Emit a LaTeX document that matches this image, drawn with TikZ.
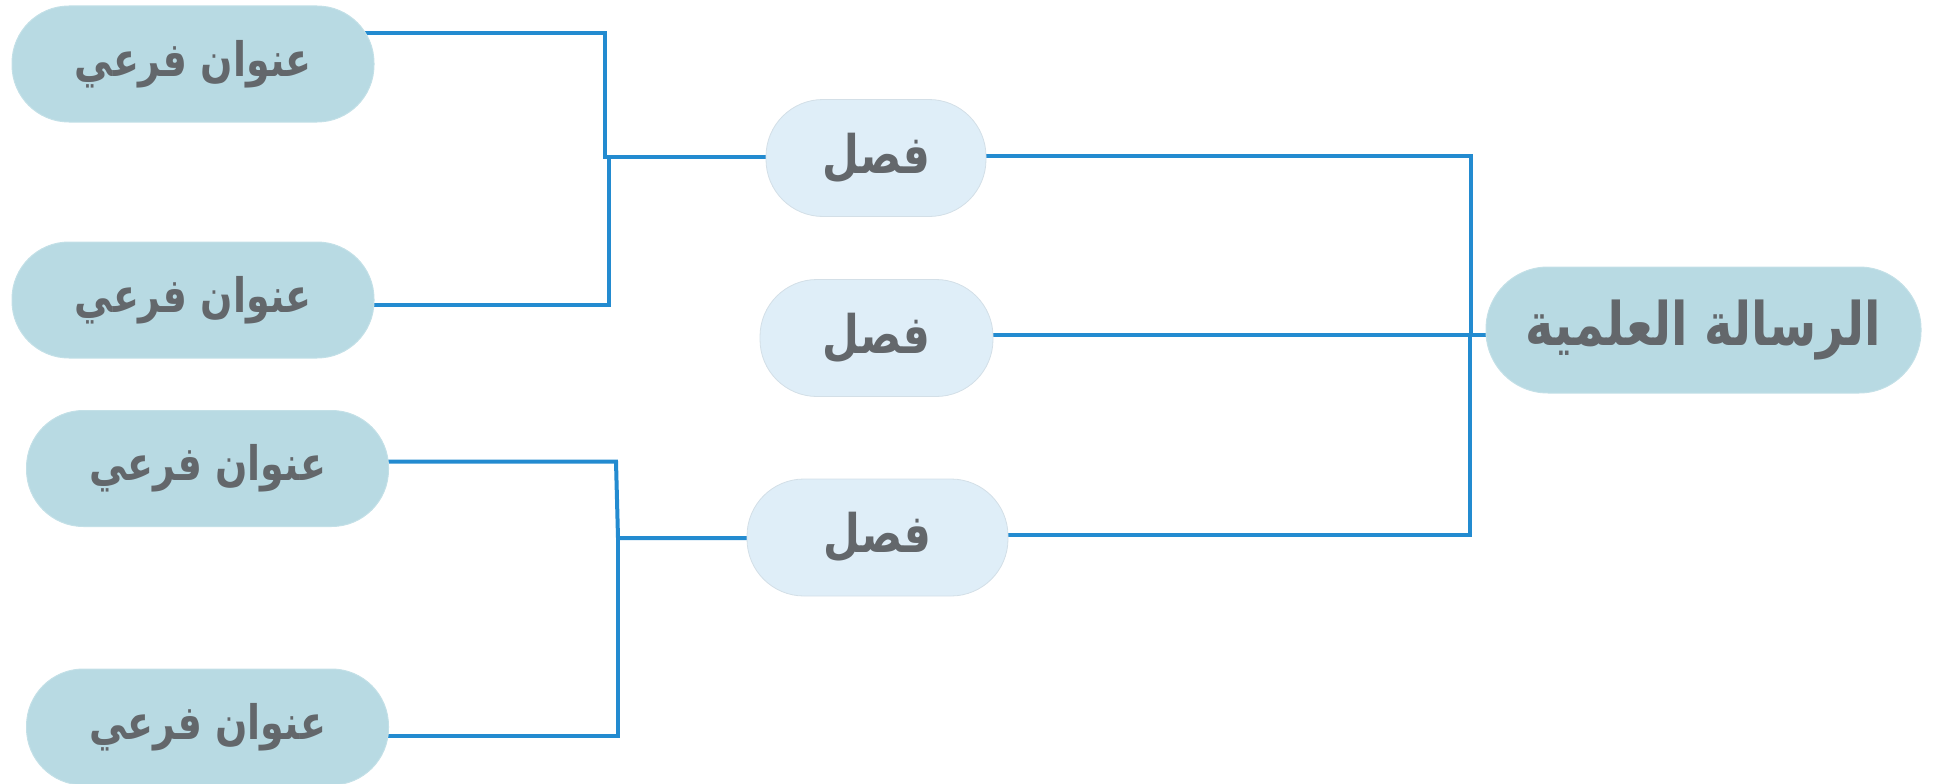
\documentclass[tikz,border=0pt]{standalone}
\usepackage{fontspec}
\usepackage{graphicx}
\usetikzlibrary{backgrounds,calc}
\TeXXeTstate=1
\newfontfamily\arabicfont[Script=Arabic]{DejaVu Sans}
\newcommand{\tallar}[1]{\scalebox{1}[1.25]{\beginR #1\endR}}
\definecolor{darkfill}{HTML}{B8DAE3}
\definecolor{lightfill}{HTML}{DFEEF8}
\definecolor{linecol}{HTML}{238BD0}
\definecolor{txtcol}{HTML}{63676B}
\tikzset{
  sub/.style={draw=darkfill!85!white, line width=1pt, fill=darkfill, rounded corners=57pt, minimum width=362pt, minimum height=116pt, inner sep=0pt, text=txtcol, font=\arabicfont\bfseries\fontsize{38}{45}\selectfont},
  chap/.style={draw=lightfill!85!gray!95, line width=0.8pt, fill=lightfill, rounded corners=57pt, minimum height=117pt, inner sep=0pt, text=txtcol, font=\arabicfont\bfseries\fontsize{42.5}{50}\selectfont},
  rootbox/.style={draw=darkfill!85!white, line width=1pt, fill=darkfill, rounded corners=62pt, minimum width=435pt, minimum height=126pt, inner sep=0pt, text=txtcol, font=\arabicfont\bfseries\fontsize{48}{56}\selectfont},
  conn/.style={draw=linecol, line width=4pt, line cap=rect}
}
\begin{document}
\begin{tikzpicture}[x=1pt,y=-1pt]
\useasboundingbox (0,0) rectangle (1940,784);
\clip (0,0) rectangle (1940,784);
\node[sub] (s1) at (193,64) {\tallar{عنوان فرعي}};
\node[sub] (s2) at (193,300) {\tallar{عنوان فرعي}};
\node[sub] (s3) at (207.5,468.5) {\tallar{عنوان فرعي}};
\node[sub] (s4) at (207.5,727) {\tallar{عنوان فرعي}};
\node[chap, minimum width=220pt] (f1) at (876,158) {\tallar{فصل}};
\node[chap, minimum width=233pt] (f2) at (876.5,338) {\tallar{فصل}};
\node[chap, minimum width=261pt] (f3) at (877.5,537.5) {\tallar{فصل}};
\node[rootbox] (root) at (1703.5,330) {\tallar{الرسالة العلمية}};
\coordinate (j1) at (605,157);
\coordinate (j2) at (618,538);
\coordinate (j3) at (1471,335);
\begin{scope}[on background layer]
\draw[conn] (s1.center |- 0,33) -| (j1) -- (f1.center |- j1);
\draw[conn] (s2.center |- 0,305) -| (608.5,157);
\draw[conn] (s3.center |- 0,461.5) -- (616,461.5) -- (618,538) -- (f3.center |- j2);
\draw[conn] (s4.center |- 0,736) -| (j2);
\draw[conn] (f1.center |- 0,156) -| (j3);
\draw[conn] (f2.center |- j3) -- (root.center |- j3);
\draw[conn] (f3.center |- 0,535) -| (1469.5,335);
\end{scope}
\end{tikzpicture}
\end{document}
